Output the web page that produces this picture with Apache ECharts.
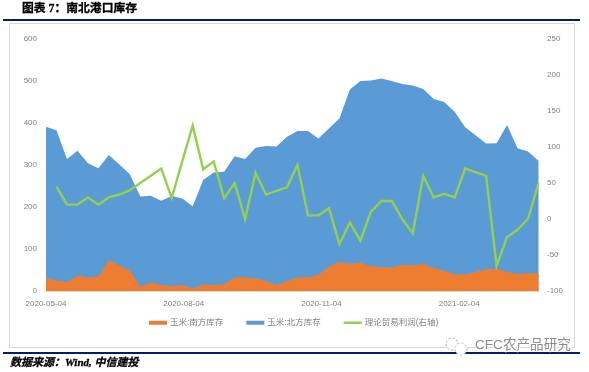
<!DOCTYPE html>
<html>
<head>
<meta charset="utf-8">
<script src="https://cdn.jsdelivr.net/npm/echarts@6/dist/echarts.min.js"></script>
<style>
  html, body { margin: 0; padding: 0; background: #fff; }
  #main { width: 589px; height: 372px; }
</style>
</head>
<body>
<div id="main"></div>
<script>
var dates = ['2020-05-04', '2020-05-11', '2020-05-18', '2020-05-25', '2020-06-01', '2020-06-08', '2020-06-15', '2020-06-22',
  '2020-06-29', '2020-07-06', '2020-07-13', '2020-07-20', '2020-07-27', '2020-08-03', '2020-08-10', '2020-08-17',
  '2020-08-24', '2020-08-31', '2020-09-07', '2020-09-14', '2020-09-21', '2020-09-28', '2020-10-05', '2020-10-12',
  '2020-10-19', '2020-10-26', '2020-11-02', '2020-11-09', '2020-11-16', '2020-11-23', '2020-11-30', '2020-12-07',
  '2020-12-14', '2020-12-21', '2020-12-28', '2021-01-04', '2021-01-11', '2021-01-18', '2021-01-25', '2021-02-01',
  '2021-02-08', '2021-02-15', '2021-02-22', '2021-03-01', '2021-03-08', '2021-03-15', '2021-03-22', '2021-03-29']
var tickDates = ['2020-05-04', '2020-08-04', '2020-11-04', '2021-02-04']

var south = [31, 25, 21, 37, 33, 34, 74, 61, 48, 10, 20, 14, 12, 14, 6, 16,
  14, 16, 32, 33, 30, 24, 14, 23, 33, 33, 38, 58, 69, 64, 67, 59,
  57, 56, 62, 62, 64, 54, 48, 40, 39, 46, 52, 53, 45, 41, 42, 42]
var north = [360, 358, 293, 297, 271, 258, 250, 240, 230, 215, 207, 201, 214, 206, 196, 248,
  268, 268, 289, 281, 311, 321, 330, 344, 348, 348, 325, 329, 342, 416, 433, 442,
  449, 444, 431, 427, 417, 403, 402, 387, 351, 325, 299, 299, 350, 299, 290, 268]
var profit = [null, 45, 20, 20, 30, 20, 30, 34, 40, 50, 60, 70, 29, 80, 130, 69,
  80, 29, 50, 0, 64, 34, 39, 44, 75, 5, 5, 15, -35, -5, -30, 10,
  25, 25, 0, -20, 60, 30, 35, 30, 70, 65, 60, -65, -25, -15, 0, 50]

var labelFont = '"Liberation Sans", "Noto Sans CJK SC", sans-serif'

function toTime(d) {
  return +echarts.time.parse(d)
}

function pairs(values) {
  return values.map(function (v, i) {
    return [toTime(dates[i]), v]
  })
}

// 两个数值轴时 stack 会叠到 x 上，这里自己累加
var stacked = north.map(function (v, i) {
  return v + south[i]
})

var myChart = echarts.init(document.getElementById('main'), null, { renderer: 'canvas' })
myChart.setOption({
  animation: false,
  backgroundColor: '#fff',
  grid: { left: 46, right: 50.5, top: 39, bottom: 81 },
  legend: {
    left: 149,
    top: 318.5,
    padding: 0,
    itemWidth: 18,
    itemHeight: 4,
    itemGap: 23,
    textStyle: { color: '#7f7f7f', fontSize: 8.5, fontFamily: labelFont, padding: [0, 0, 0, -2] },
    data: [
      { name: '玉米:南方库存', icon: 'rect' },
      { name: '玉米:北方库存', icon: 'rect' },
      // 线比色块细，上下两个极小的点把图标高度撑开
      { name: '理论贸易利润(右轴)', icon: 'path://M0 0L0 0.01M0 0.7H18V3.3H0ZM0 4L0 4.01' }
    ]
  },
  // 日期轴的刻度不等距，用数值轴加 customValues
  xAxis: {
    type: 'value',
    min: toTime(dates[0]),
    max: toTime(dates[dates.length - 1]),
    axisLine: { onZero: false, lineStyle: { color: '#d9d9d9' } },
    axisTick: { show: false },
    splitLine: { show: false },
    axisLabel: {
      color: '#7f7f7f',
      fontSize: 8,
      fontFamily: labelFont,
      margin: 8.5,
      hideOverlap: false,
      customValues: tickDates.map(toTime),
      formatter: function (v) {
        return echarts.time.format(v, '{yyyy}-{MM}-{dd}', false)
      }
    }
  },
  yAxis: [
    {
      type: 'value',
      min: 0,
      max: 600,
      interval: 100,
      axisLine: { show: false },
      axisTick: { show: false },
      splitLine: { show: false },
      axisLabel: { color: '#7f7f7f', fontSize: 8, fontFamily: labelFont, margin: 9 }
    },
    {
      type: 'value',
      min: -100,
      max: 250,
      interval: 50,
      axisLine: { show: false },
      axisTick: { show: false },
      splitLine: { show: false },
      axisLabel: { color: '#7f7f7f', fontSize: 8, fontFamily: labelFont, margin: 8.5 }
    }
  ],
  series: [
    {
      name: '玉米:南方库存',
      type: 'line',
      symbol: 'none',
      lineStyle: { width: 0 },
      itemStyle: { color: '#ed7d31' },
      areaStyle: { color: '#ed7d31', opacity: 1 },
      z: 3,
      data: pairs(south)
    },
    {
      name: '玉米:北方库存',
      type: 'line',
      symbol: 'none',
      lineStyle: { width: 0 },
      itemStyle: { color: '#5b9bd5' },
      areaStyle: { color: '#5b9bd5', opacity: 1 },
      z: 2,
      data: pairs(stacked)
    },
    {
      name: '理论贸易利润(右轴)',
      type: 'line',
      yAxisIndex: 1,
      symbol: 'none',
      lineStyle: { color: '#92d050', width: 2.4, join: 'miter' },
      itemStyle: { color: '#92d050' },
      z: 4,
      data: pairs(profit)
    }
  ],
  graphic: [
    // 外框和上下两条深蓝线
    { type: 'rect', z: -1, shape: { x: 9.5, y: 23.5, width: 565, height: 324 }, style: { fill: 'none', stroke: '#d9d9d9', lineWidth: 1 } },
    { type: 'rect', z: 10, shape: { x: 3, y: 19, width: 577, height: 2 }, style: { fill: '#002060' } },
    { type: 'rect', z: 10, shape: { x: 3, y: 352, width: 577, height: 2 }, style: { fill: '#002060' } },
    {
      type: 'text', z: 10, x: 22, y: 8.5,
      style: { text: '图表 7：南北港口库存', fill: '#000', stroke: '#000', lineWidth: 0.3, font: 'bold 11.8px "Liberation Serif", "Noto Sans CJK SC"', verticalAlign: 'middle' }
    },
    {
      type: 'text', z: 10, x: 10, y: 363,
      style: { text: '数据来源：Wind, 中信建投', fill: '#000', stroke: '#000', lineWidth: 0.3, font: 'italic bold 11px "Liberation Serif", "Noto Sans CJK SC"', verticalAlign: 'middle' }
    },
    // 水印
    { type: 'circle', z: 20, shape: { cx: 452, cy: 344, r: 6 }, style: { fill: '#fff', stroke: '#9a9a9a', lineWidth: 1, lineDash: [2, 2] } },
    { type: 'circle', z: 20, shape: { cx: 461, cy: 349, r: 6 }, style: { fill: '#fff', stroke: '#b5b5b5', lineWidth: 1, lineDash: [2, 2] } },
    {
      type: 'text', z: 20, x: 475, y: 345.5,
      style: {
        text: 'CFC农产品研究',
        fill: '#8c8c8c',
        stroke: '#fff',
        lineWidth: 2,
        font: '13.6px "Liberation Sans", "Noto Sans CJK SC"',
        verticalAlign: 'middle'
      }
    }
  ]
})
</script>
</body>
</html>
